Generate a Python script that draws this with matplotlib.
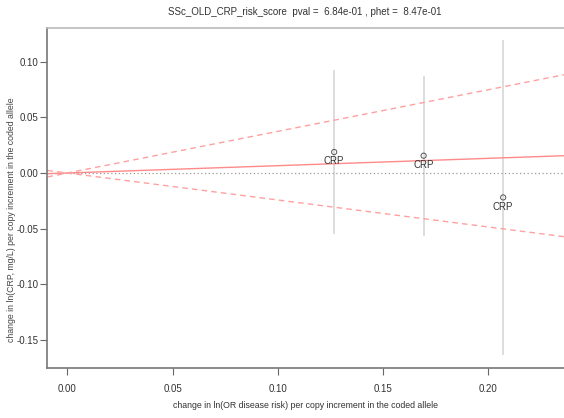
"""Mendelian randomisation scatter: CRP instruments vs SSc risk."""

import matplotlib
matplotlib.use("Agg")
import matplotlib.pyplot as plt

plt.rcParams["font.family"] = ["Liberation Sans", "DejaVu Sans"]

# SNP effects on disease (x) and on CRP (y)
snp_labels = ["CRP", "CRP", "CRP"]
beta_disease = [0.1268, 0.1693, 0.2071]
beta_crp = [0.0189, 0.0156, -0.0220]
crp_ci_low = [-0.0547, -0.0565, -0.1637]
crp_ci_high = [0.0930, 0.0877, 0.1201]

# fitted slope through origin and its confidence limits
slope = 0.066
slope_low = -0.243
slope_high = 0.375

title = "SSc_OLD_CRP_risk_score  pval =  6.84e-01 , phet =  8.47e-01"
xlabel = "change in ln(OR disease risk) per copy increment in the coded allele"
ylabel = "change in ln(CRP, mg/L) per copy increment in the coded allele"
xticks = [0.00, 0.05, 0.10, 0.15, 0.20]
yticks = [0.10, 0.05, 0.00, -0.05, -0.10, -0.15]


def main() -> None:
    fig = plt.figure(figsize=(5.64, 4.18), dpi=100)
    ax = fig.add_axes([0.0839, 0.1189, 0.9161, 0.8141])

    ax.set_xlim(-0.0095, 0.236)
    ax.set_ylim(-0.1759, 0.1306)

    # vertical CI bars
    ax.vlines(beta_disease, crp_ci_low, crp_ci_high, color="#dadada", linewidth=1.3, zorder=1)

    # zero line
    ax.axhline(0, color="#9a9a9a", linestyle=(0, (1, 2)), linewidth=0.9, zorder=1)

    # regression lines through origin
    ax.axline((0, 0), slope=slope, color="#ff8a8a", linewidth=1.0, zorder=2)
    ax.axline((0, 0), slope=slope_high, color="#ffa0a0", linewidth=1.0,
              linestyle=(0, (4, 3)), zorder=2)
    ax.axline((0, 0), slope=slope_low, color="#ffa0a0", linewidth=1.0,
              linestyle=(0, (4, 3)), zorder=2)

    ax.scatter(beta_disease, beta_crp, s=14, facecolors="none", edgecolors="#555555",
               linewidths=0.7, zorder=3)
    for x, y, lab in zip(beta_disease, beta_crp, snp_labels):
        ax.annotate(lab, (x, y), xytext=(0, -3), textcoords="offset points",
                    ha="center", va="top", fontsize=7, color="#333333", zorder=4)

    ax.set_xticks(xticks)
    ax.set_xticklabels([f"{t:.2f}" for t in xticks])
    ax.set_yticks(yticks)
    ax.set_yticklabels([f"{t:.2f}" for t in yticks])
    ax.tick_params(axis="both", labelsize=7, length=5, width=0.8,
                   color="#666666", labelcolor="#333333")
    ax.tick_params(axis="x", pad=6)
    ax.tick_params(axis="y", pad=1.5)

    ax.spines["right"].set_visible(False)
    ax.spines["top"].set_color("#bbbbbb")
    ax.spines["top"].set_linewidth(1.2)
    ax.spines["left"].set_color("#777777")
    ax.spines["left"].set_linewidth(1.2)
    ax.spines["bottom"].set_color("#777777")
    ax.spines["bottom"].set_linewidth(1.2)

    fig.text(0.541, 0.972, title, ha="center", va="center", fontsize=7, color="#333333")
    fig.text(0.541, 0.030, xlabel, ha="center", va="center", fontsize=6.3, color="#333333")
    fig.text(0.020, 0.474, ylabel, ha="center", va="center", rotation=90,
             fontsize=6.3, color="#444444")

    fig.savefig("out.png", dpi=100)
    plt.close(fig)


if __name__ == "__main__":
    main()
